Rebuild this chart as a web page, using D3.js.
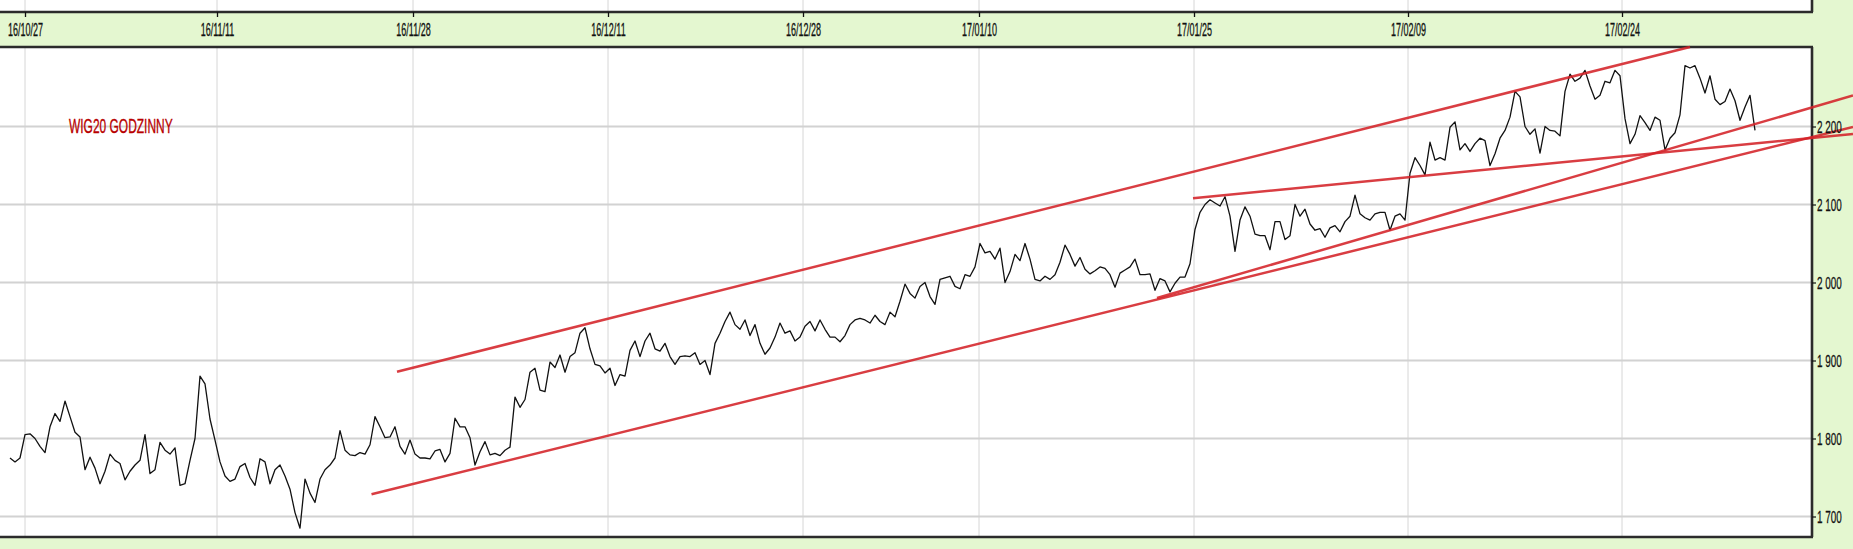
<!DOCTYPE html>
<html><head><meta charset="utf-8">
<script src="https://cdn.jsdelivr.net/npm/d3@7"></script>
<style>
html,body{margin:0;padding:0;background:#e4f7d0;overflow:hidden}
svg{display:block}
</style></head><body>
<svg id="c" width="1853" height="549"></svg>
<script>
// hourly WIG20 closes (uniform index)
const values = [
1775,1770,1775,1805,1806,1800,1790,1782,1815,1832,
1822,1848,1828,1808,1802,1760,1776,1762,1742,1758,
1780,1772,1768,1747,1758,1766,1772,1805,1755,1760,
1795,1785,1780,1788,1740,1742,1772,1800,1880,1870,
1825,1798,1770,1752,1745,1748,1764,1768,1750,1740,
1774,1770,1742,1760,1766,1752,1735,1705,1685,1748,
1730,1718,1748,1760,1766,1775,1810,1785,1779,
1778,1782,1780,1792,1828,1815,1801,1802,1815,1790,
1780,1798,1780,1775,1775,1774,1784,1786,1770,1781,
1826,1815,1815,1801,1766,1783,1796,1779,1781,1778,
1785,1789,1853,1840,1850,1885,1890,1862,1860,1898,
1891,1907,1885,1905,1910,1935,1942,1915,1895,1893,
1884,1890,1868,1882,1880,1913,1925,1905,1925,1935,
1915,1912,1922,1905,1895,1905,1906,1905,1910,1895,
1900,1882,1922,1935,1950,1962,1946,1940,1952,1932,
1946,1922,1908,1916,1930,1948,1935,1938,1925,1930,
1944,1950,1938,1952,1940,1930,1930,1924,1932,1946,
1952,1954,1952,1948,1958,1950,1946,1962,1956,1976,
1998,1986,1980,1995,2000,1982,1972,2004,2006,2008,
1995,1992,2010,2008,2020,2050,2038,2040,2030,2044,
2000,2014,2036,2028,2050,2030,2004,2002,2008,2004,
2010,2026,2048,2036,2021,2032,2017,2011,2015,2020,
2018,2010,1994,2012,2016,2020,2030,2010,2010,2011,
1990,2005,2002,1988,1999,2007,2007,2024,2068,2090,
2100,2106,2102,2098,2110,2085,2040,2080,2097,2085,
2062,2060,2060,2042,2078,2078,2055,2060,2100,2085,
2094,2075,2067,2069,2058,2070,2073,2065,2078,2085,
2112,2088,2083,2080,2088,2090,2090,2067,2085,2088,
2080,2140,2160,2150,2138,2180,2157,2160,2157,2199,
2206,2170,2178,2168,2178,2185,2182,2150,2165,2185,
2195,2212,2245,2238,2200,2190,2197,2166,2200,2195,
2194,2188,2245,2267,2258,2262,2272,2252,2235,2240,
2258,2256,2272,2265,2210,2178,2190,2214,2205,2195,
2212,2208,2170,2185,2192,2215,2278,2275,2278,2262,
2243,2265,2235,2228,2232,2248,2233,2208,2225,2240,
2195
];
const tickLabels = ["16/10/27","16/11/11","16/11/28","16/12/11","16/12/28","17/01/10","17/01/25","17/02/09","17/02/24"];
const tickIdx = [3, 41.4, 80.6, 119.6, 158.6, 193.8, 236.8, 279.6, 322.4];
const yTicks = [1700,1800,1900,2000,2100,2200];
// trend lines: [index, value] endpoints
const trendA = [[77.4,1885.6],[336,2302]];
const trendB = [[72.3,1728.5],[368.6,2199.4]];
const trendC = [[229.4,1980.1],[368.6,2239.7]];
const trendD = [[236.6,2108],[368.6,2190.4]];
const title = "WIG20 GODZINNY";

const W=1853,H=549, plotR=1812, plotT=47, plotB=537, stripB=12;
const FONT = "'Liberation Sans','Arial',sans-serif";
const svg = d3.select("#c");
const x = d3.scaleLinear().domain([0, values.length-1]).range([10,1755]);
const y = d3.scaleLinear().domain([1700,2200]).range([516.5,126.5]);
const green = "#e4f7d0", border="#2b2b2b";

svg.append("rect").attr("width",W).attr("height",H).attr("fill",green);
svg.append("rect").attr("x",0).attr("y",0).attr("width",plotR).attr("height",stripB).attr("fill","#fff");
svg.append("rect").attr("x",0).attr("y",plotT).attr("width",plotR).attr("height",plotB-plotT).attr("fill","#fff");

// vertical gridlines
const vg = svg.append("g");
tickIdx.forEach(t=>{
  vg.append("line").attr("x1",x(t)).attr("x2",x(t)).attr("y1",0).attr("y2",stripB).attr("stroke","#d6d6d6").attr("stroke-width",1);
  vg.append("line").attr("x1",x(t)).attr("x2",x(t)).attr("y1",plotT).attr("y2",plotB).attr("stroke","#d6d6d6").attr("stroke-width",1);
});
// horizontal gridlines
svg.append("g").selectAll("line").data(yTicks).join("line")
  .attr("x1",0).attr("x2",plotR).attr("y1",d=>y(d)).attr("y2",d=>y(d))
  .attr("stroke","#d2d2d2").attr("stroke-width",2);

// series
svg.append("path").datum(values)
  .attr("d", d3.line().x((d,i)=>x(i)).y(d=>y(d)))
  .attr("fill","none").attr("stroke","#111").attr("stroke-width",1.3).attr("stroke-linejoin","round");

// borders
const b = svg.append("g").attr("stroke",border).attr("stroke-width",2.6).attr("fill","none");
b.append("line").attr("x1",0).attr("x2",plotR+1).attr("y1",stripB).attr("y2",stripB);
b.append("line").attr("x1",plotR).attr("x2",plotR).attr("y1",0).attr("y2",stripB);
b.append("line").attr("x1",0).attr("x2",plotR+1).attr("y1",plotT).attr("y2",plotT);
b.append("line").attr("x1",0).attr("x2",plotR+1).attr("y1",plotB).attr("y2",plotB);
b.append("line").attr("x1",plotR).attr("x2",plotR).attr("y1",plotT).attr("y2",plotB);

// trend lines
const tl = d3.line().x(d=>x(d[0])).y(d=>y(d[1]));
[trendA,trendB,trendC,trendD].forEach(t=>{
  svg.append("path").datum(t).attr("d",tl).attr("fill","none")
    .attr("stroke","#d42228").attr("stroke-opacity",0.88).attr("stroke-width",2.5);
});

// x axis (in band)
const sxX = 0.5;
const xa = svg.append("g").attr("transform",`translate(0,${stripB})`)
  .call(d3.axisBottom(x).tickValues(tickIdx).tickFormat((d,i)=>tickLabels[i]).tickSize(5));
xa.select(".domain").remove();
xa.selectAll(".tick line").attr("stroke","#111").attr("stroke-width",1.3);
xa.selectAll(".tick text").attr("x",0).attr("y",24).attr("dy",0)
  .attr("transform",`scale(${sxX},1)`)
  .attr("font-family",FONT).attr("font-size",18)
  .attr("fill","#111").attr("stroke","#111").attr("stroke-width",0.3);

// y axis (right)
const sxY = 0.62;
const ya = svg.append("g").attr("transform",`translate(${plotR},0)`)
  .call(d3.axisRight(y).tickValues(yTicks).tickSize(4).tickPadding(1)
    .tickFormat(d=>d3.format(",")(d).replace(","," ")));
ya.select(".domain").remove();
ya.selectAll(".tick line").attr("stroke","#111").attr("stroke-width",1.2);
ya.selectAll(".tick text").attr("x",5/sxY).attr("dy","0.36em")
  .attr("transform",`scale(${sxY},1)`)
  .attr("font-family",FONT).attr("font-size",16)
  .attr("fill","#111").attr("stroke","#111").attr("stroke-width",0.25);

// title
svg.append("text").attr("transform","translate(69,133) scale(0.57,1)").text(title)
  .attr("font-family",FONT).attr("font-size",21)
  .attr("fill","#b80000").attr("stroke","#b80000").attr("stroke-width",0.35);
</script>
</body></html>
